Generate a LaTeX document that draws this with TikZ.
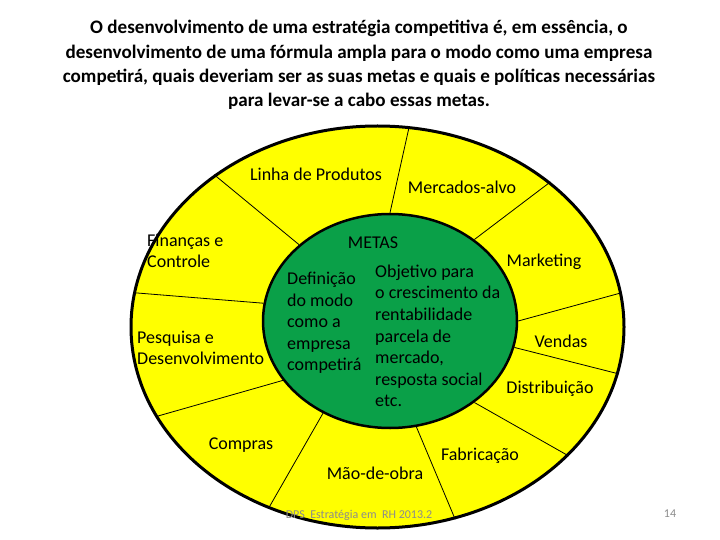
\documentclass[tikz,border=0pt]{standalone}
\usepackage{fontspec}
\setmainfont{Carlito}
\usetikzlibrary{shapes.geometric}

\definecolor{anelyellow}{RGB}{255,255,0}
\definecolor{metasgreen}{RGB}{10,160,72}
\definecolor{rodape}{RGB}{140,140,140}

\begin{document}
\begin{tikzpicture}[
  x=1pt, y=-1pt,
  every node/.style={font=\fontsize{18}{21.6}\selectfont, inner sep=1pt},
  ring/.style={ellipse, draw, line width=3pt, inner sep=0pt},
  spoke/.style={draw, line width=0.8pt},
  lbl/.style={align=left, anchor=west}
]
\useasboundingbox (0,0) rectangle (720,540);

% titulo
\node (titulo) at (359,65) [align=center, font=\bfseries\fontsize{19.1}{24.3}\selectfont]
  {O desenvolvimento de uma estratégia competitiva é, em essência, o\\
   desenvolvimento de uma fórmula ampla para o modo como uma empresa\\
   competirá, quais deveriam ser as suas metas e quais e políticas necessárias\\
   para levar-se a cabo essas metas.};

% roda
\node (anel) at (377.5,327) [ring, fill=anelyellow, minimum width=493pt, minimum height=402pt] {};
\node (nucleo) at (390,321) [ring, fill=metasgreen, line width=2.5pt, minimum width=254pt, minimum height=214pt] {};

\foreach \a/\b in {140/137, 172/172, 209/202, 234/239, 284/292, 316/326, 348/349, 0/8, 44/40, 90/81}
  \draw[spoke] (nucleo.\a) -- (anel.\b);

% areas
\node (linha) at (316,174) {Linha de Produtos};
\node (mercados) at (462,187) {Mercados-alvo};
\node (financas) at (146,251) [lbl] {Finanças e\\Controle};
\node (pesquisa) at (136,348) [lbl] {Pesquisa e\\Desenvolvimento};
\node (marketing) at (544,262) {Marketing};
\node (vendas) at (561,341) {Vendas};
\node (distrib) at (550,389) {Distribuição};
\node (compras) at (241,445) {Compras};
\node (maodeobra) at (375,473) {Mão-de-obra};
\node (fabricacao) at (480,456) {Fabricação};

% metas
\node (metas) at (373,243) {METAS};
\node (definicao) at (286,323) [lbl] {Definição\\do modo\\como a\\empresa\\competirá};
\node (objetivo) at (374,336) [lbl] {Objetivo para\\o crescimento da\\rentabilidade\\parcela de\\mercado,\\resposta social\\etc.};

% rodape
\node (fonte) at (359,515) [text=rodape, font=\fontsize{12}{14}\selectfont] {DPS\ \ Estratégia em\ \ RH 2013.2};
\node (pagina) at (670,514) [text=rodape, font=\fontsize{12}{14}\selectfont] {14};
\end{tikzpicture}
\end{document}
